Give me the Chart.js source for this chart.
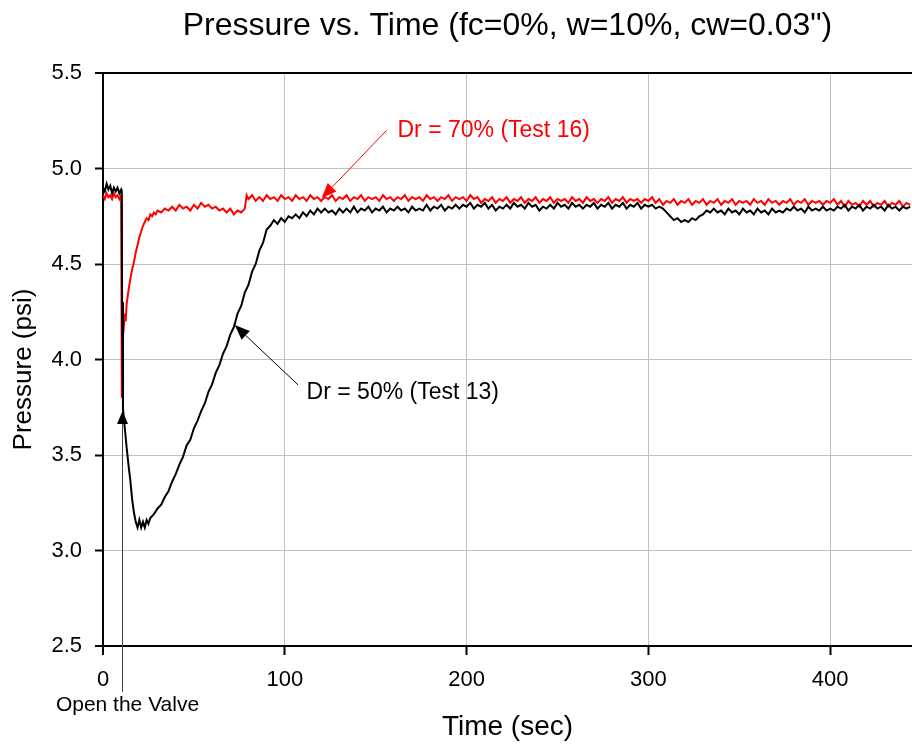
<!DOCTYPE html>
<html>
<head>
<meta charset="utf-8">
<title>Pressure vs. Time</title>
<script src="https://cdn.jsdelivr.net/npm/chart.js@4.4.1/dist/chart.umd.min.js"></script>
<style>
    html, body { margin: 0; padding: 0; background: #fff; }
    #chart { display: block; }
</style>
</head>
<body>
<canvas id="chart" width="912" height="744"></canvas>
<script>
// Dr = 50% (Test 13), black trace: time (sec) and pressure (psi)
const timesTest13 = [
    0, 1, 2, 3, 4, 5, 6, 7, 8, 9, 10, 10.3, 10.5,
    11, 12, 13, 14, 15, 16, 17, 18, 19, 20, 21, 22, 23, 24, 25, 26,
    28, 30, 32, 34, 36, 38, 40, 42, 44, 46,
    48, 50, 52, 54, 56, 58, 60, 62, 64, 66,
    68, 70, 72, 74, 76, 78, 80, 82, 84, 86,
    88, 90, 92, 94, 96, 98, 100, 102, 104, 106,
    108, 110, 112, 114, 116, 118, 120, 122, 124, 126,
    128, 130, 132, 134, 136, 138, 140, 142, 144, 146,
    148, 150, 152, 154, 156, 158, 160, 162, 164, 166,
    168, 170, 172, 174, 176, 178, 180, 182, 184, 186,
    188, 190, 192, 194, 196, 198, 200, 202, 204, 206,
    208, 210, 212, 214, 216, 218, 220, 222, 224, 226,
    228, 230, 232, 234, 236, 238, 240, 242, 244, 246,
    248, 250, 252, 254, 256, 258, 260, 262, 264, 266,
    268, 270, 272, 274, 276, 278, 280, 282, 284, 286,
    288, 290, 292, 294, 296, 298, 300, 302, 304, 306,
    308, 310, 312, 314, 316, 318, 320, 322, 324, 326,
    328, 330, 332, 334, 336, 338, 340, 342, 344, 346,
    348, 350, 352, 354, 356, 358, 360, 362, 364, 366,
    368, 370, 372, 374, 376, 378, 380, 382, 384, 386,
    388, 390, 392, 394, 396, 398, 400, 402, 404, 406,
    408, 410, 412, 414, 416, 418, 420, 422, 424, 426,
    428, 430, 432, 434, 436, 438, 440, 442, 444,
];
const pressureTest13 = [
    4.90, 4.88, 4.92, 4.89, 4.91, 4.87, 4.90, 4.88, 4.90, 4.87, 4.89, 4.88, 4.30,
    3.74, 3.64, 3.54, 3.45, 3.37, 3.27, 3.20, 3.15, 3.12, 3.16, 3.12, 3.15, 3.12, 3.16, 3.14, 3.17,
    3.19, 3.22, 3.24, 3.28, 3.31, 3.36, 3.40, 3.45, 3.49, 3.55,
    3.58, 3.64, 3.68, 3.73, 3.77, 3.83, 3.87, 3.93, 3.97, 4.03,
    4.07, 4.13, 4.17, 4.24, 4.28, 4.35, 4.39, 4.46, 4.50, 4.57,
    4.61, 4.68, 4.70, 4.73, 4.71, 4.74, 4.72, 4.75, 4.74, 4.76,
    4.74, 4.77, 4.75, 4.78, 4.76, 4.79, 4.77, 4.79, 4.77, 4.78,
    4.76, 4.79, 4.77, 4.79, 4.77, 4.80, 4.77, 4.79, 4.78, 4.80,
    4.77, 4.79, 4.78, 4.80, 4.77, 4.79, 4.78, 4.80, 4.78, 4.79,
    4.77, 4.80, 4.78, 4.79, 4.78, 4.81, 4.78, 4.80, 4.79, 4.81,
    4.78, 4.80, 4.79, 4.81, 4.79, 4.81, 4.80, 4.82, 4.79, 4.81,
    4.80, 4.82, 4.79, 4.81, 4.78, 4.80, 4.79, 4.81, 4.79, 4.82,
    4.80, 4.81, 4.79, 4.82, 4.80, 4.81, 4.78, 4.80, 4.79, 4.81,
    4.79, 4.82, 4.80, 4.81, 4.79, 4.82, 4.80, 4.81, 4.79, 4.81,
    4.80, 4.82, 4.79, 4.81, 4.80, 4.82, 4.79, 4.81, 4.80, 4.82,
    4.79, 4.81, 4.80, 4.82, 4.79, 4.81, 4.80, 4.81, 4.79, 4.80,
    4.79, 4.77, 4.75, 4.73, 4.74, 4.72, 4.73, 4.72, 4.74, 4.73,
    4.75, 4.76, 4.78, 4.77, 4.79, 4.77, 4.78, 4.76, 4.79, 4.77,
    4.78, 4.76, 4.79, 4.77, 4.78, 4.76, 4.79, 4.77, 4.78, 4.76,
    4.79, 4.77, 4.78, 4.77, 4.79, 4.78, 4.80, 4.78, 4.79, 4.77,
    4.80, 4.78, 4.79, 4.78, 4.80, 4.78, 4.79, 4.78, 4.80, 4.79,
    4.81, 4.78, 4.80, 4.79, 4.81, 4.78, 4.80, 4.79, 4.81, 4.79,
    4.80, 4.78, 4.81, 4.79, 4.80, 4.78, 4.80, 4.79, 4.80,
];

// Dr = 70% (Test 16), red trace
const timesTest16 = [
    0, 1, 2, 3, 4, 5, 6, 7, 8, 9, 10, 10.3, 10.4, 10.7,
    11, 11.5, 12, 12.5, 13,
    14, 15, 16, 17, 18, 19, 20, 21, 22, 23, 24, 25, 26, 27, 28, 29, 30,
    32, 34, 36, 38, 40, 42, 44, 46, 48, 50, 52, 54,
    56, 58, 60, 62, 64, 66, 68, 70, 72, 74, 76, 78, 79,
    80, 82, 84, 86, 88, 90, 92, 94, 96, 98,
    100, 102, 104, 106, 108, 110, 112, 114, 116, 118,
    120, 122, 124, 126, 128, 130, 132, 134, 136, 138,
    140, 142, 144, 146, 148, 150, 152, 154, 156, 158,
    160, 162, 164, 166, 168, 170, 172, 174, 176, 178,
    180, 182, 184, 186, 188, 190, 192, 194, 196, 198,
    200, 202, 204, 206, 208, 210, 212, 214, 216, 218,
    220, 222, 224, 226, 228, 230, 232, 234, 236, 238,
    240, 242, 244, 246, 248, 250, 252, 254, 256, 258,
    260, 262, 264, 266, 268, 270, 272, 274, 276, 278,
    280, 282, 284, 286, 288, 290, 292, 294, 296, 298,
    300, 302, 304, 306, 308, 310, 312, 314, 316, 318,
    320, 322, 324, 326, 328, 330, 332, 334, 336, 338,
    340, 342, 344, 346, 348, 350, 352, 354, 356, 358,
    360, 362, 364, 366, 368, 370, 372, 374, 376, 378,
    380, 382, 384, 386, 388, 390, 392, 394, 396, 398,
    400, 402, 404, 406, 408, 410, 412, 414, 416, 418,
    420, 422, 424, 426, 428, 430, 432, 434, 436, 438,
    440, 442, 444,
];
const pressureTest16 = [
    4.86, 4.84, 4.87, 4.85, 4.86, 4.84, 4.87, 4.85, 4.86, 4.84, 4.86, 4.85, 3.80, 4.15,
    4.21, 4.18, 4.24, 4.20, 4.29,
    4.36, 4.42, 4.47, 4.51, 4.56, 4.60, 4.64, 4.67, 4.70, 4.72, 4.74, 4.73, 4.76, 4.75, 4.77, 4.76, 4.78,
    4.77, 4.79, 4.78, 4.80, 4.78, 4.81, 4.79, 4.80, 4.78, 4.81, 4.79, 4.82,
    4.80, 4.81, 4.79, 4.80, 4.78, 4.79, 4.77, 4.79, 4.76, 4.78, 4.77, 4.79, 4.86,
    4.84, 4.86, 4.83, 4.85, 4.83, 4.86, 4.84, 4.85, 4.83, 4.86,
    4.84, 4.85, 4.83, 4.86, 4.84, 4.85, 4.83, 4.86, 4.84, 4.85,
    4.83, 4.85, 4.84, 4.86, 4.83, 4.85, 4.84, 4.86, 4.83, 4.85,
    4.84, 4.86, 4.83, 4.85, 4.84, 4.85, 4.83, 4.86, 4.84, 4.85,
    4.83, 4.85, 4.84, 4.86, 4.83, 4.85, 4.84, 4.85, 4.83, 4.86,
    4.84, 4.85, 4.83, 4.85, 4.84, 4.86, 4.83, 4.85, 4.84, 4.85,
    4.83, 4.86, 4.84, 4.85, 4.82, 4.84, 4.83, 4.85, 4.82, 4.84,
    4.83, 4.85, 4.82, 4.84, 4.83, 4.85, 4.82, 4.84, 4.83, 4.85,
    4.82, 4.84, 4.83, 4.85, 4.82, 4.84, 4.83, 4.84, 4.82, 4.85,
    4.83, 4.84, 4.82, 4.85, 4.83, 4.84, 4.82, 4.84, 4.83, 4.85,
    4.82, 4.84, 4.83, 4.85, 4.82, 4.84, 4.83, 4.84, 4.82, 4.84,
    4.83, 4.85, 4.82, 4.84, 4.81, 4.83, 4.82, 4.84, 4.81, 4.83,
    4.82, 4.84, 4.81, 4.83, 4.82, 4.84, 4.81, 4.83, 4.82, 4.84,
    4.81, 4.83, 4.82, 4.84, 4.81, 4.83, 4.82, 4.83, 4.81, 4.84,
    4.82, 4.83, 4.81, 4.84, 4.82, 4.83, 4.81, 4.83, 4.82, 4.84,
    4.81, 4.83, 4.82, 4.84, 4.81, 4.83, 4.82, 4.83, 4.81, 4.83,
    4.82, 4.84, 4.81, 4.83, 4.80, 4.83, 4.81, 4.82, 4.80, 4.83,
    4.81, 4.83, 4.80, 4.82, 4.81, 4.83, 4.80, 4.82, 4.81, 4.83,
    4.80, 4.82, 4.81,
];

// Axis ranges and tick steps
const timeRange = [0, 445];
const timeStep = 100;
const pressureRange = [2.5, 5.5];
const pressureStep = 0.5;

// Callouts, placed in data units (sec, psi)
const valveTime = 10.3;
const valveArrowTip = 3.73;
const callouts = [
    {text: 'Dr = 70% (Test 16)', color: '#ff0000', at: [162, 5.196], from: [156, 5.20], to: [120.3, 4.845]},
    {text: 'Dr = 50% (Test 13)', color: '#000000', at: [112, 3.825], from: [107.3, 3.867], to: [72.5, 4.18]},
];

const FONT = '"Liberation Sans", Arial, Helvetica, sans-serif';
const GRID_GREY = '#c0c0c0';

function toPoints(times, values) {
    return times.map((t, i) => ({x: t, y: values[i]}));
}

function drawArrow(ctx, x1, y1, x2, y2, lineColor, headColor, headLen, headHalf) {
    const ang = Math.atan2(y2 - y1, x2 - x1);
    const bx = x2 - headLen * Math.cos(ang);
    const by = y2 - headLen * Math.sin(ang);
    ctx.strokeStyle = lineColor;
    ctx.lineWidth = 1;
    ctx.beginPath();
    ctx.moveTo(x1, y1);
    ctx.lineTo(bx, by);
    ctx.stroke();
    ctx.fillStyle = headColor;
    ctx.beginPath();
    ctx.moveTo(x2, y2);
    ctx.lineTo(bx + headHalf * Math.sin(ang), by - headHalf * Math.cos(ang));
    ctx.lineTo(bx - headHalf * Math.sin(ang), by + headHalf * Math.cos(ang));
    ctx.closePath();
    ctx.fill();
}

// Draws the callout arrows, their text and the pressure axis title
const pluginCallouts = {
    id: 'callouts',
    afterDraw(chart) {
        const ctx = chart.ctx;
        const xs = chart.scales.x;
        const ys = chart.scales.y;
        const area = chart.chartArea;
        ctx.save();
        ctx.font = '23px ' + FONT;
        ctx.textBaseline = 'middle';
        ctx.textAlign = 'left';
        for (const c of callouts) {
            drawArrow(ctx,
                xs.getPixelForValue(c.from[0]), ys.getPixelForValue(c.from[1]),
                xs.getPixelForValue(c.to[0]), ys.getPixelForValue(c.to[1]),
                c.color, c.color, 15, 6);
            ctx.fillStyle = c.color;
            ctx.fillText(c.text, xs.getPixelForValue(c.at[0]), ys.getPixelForValue(c.at[1]));
        }

        // "Open the Valve" marker, starting below the time axis
        const vx = Math.round(xs.getPixelForValue(valveTime)) + 0.5;
        drawArrow(ctx, vx, area.bottom + 46, vx, ys.getPixelForValue(valveArrowTip), '#404040', '#000', 13, 5.5);
        ctx.fillStyle = '#000';
        ctx.textAlign = 'center';
        ctx.font = '21px ' + FONT;
        ctx.fillText('Open the Valve', vx + 5, area.bottom + 59);

        // Pressure axis title, sitting a little below the middle like the original
        ctx.font = '26px ' + FONT;
        ctx.translate(24, (area.top + area.bottom) / 2 + 10);
        ctx.rotate(-Math.PI / 2);
        ctx.fillText('Pressure (psi)', 0, 0);
        ctx.restore();
    },
};

Chart.defaults.font.family = FONT;
Chart.defaults.color = '#000';

new Chart(document.getElementById('chart'), {
    type: 'line',
    data: {
        datasets: [
            {
                label: 'Dr = 50% (Test 13)',
                data: toPoints(timesTest13, pressureTest13),
                borderColor: '#000000',
                borderWidth: 2,
                pointRadius: 0,
                tension: 0,
            },
            {
                label: 'Dr = 70% (Test 16)',
                data: toPoints(timesTest16, pressureTest16),
                borderColor: '#ff0000',
                borderWidth: 2,
                pointRadius: 0,
                tension: 0,
            },
        ],
    },
    options: {
        responsive: false,
        animation: false,
        layout: {padding: 0},
        plugins: {
            legend: {display: false},
            tooltip: {enabled: false},
            title: {
                display: true,
                text: 'Pressure vs. Time (fc=0%, w=10%, cw=0.03")',
                fullSize: false,
                color: '#000',
                font: {size: 32, weight: 'normal'},
                padding: {top: 7, bottom: 27.6},
            },
        },
        scales: {
            x: {
                type: 'linear',
                min: timeRange[0],
                max: timeRange[1],
                afterBuildTicks: (scale) => {
                    scale.ticks = scale.ticks.filter((t) => t.value % timeStep === 0);
                },
                afterFit: (scale) => { scale.height = 98; },
                ticks: {
                    stepSize: timeStep,
                    font: {size: 22},
                    padding: 12,
                    maxRotation: 0,
                },
                grid: {
                    color: (c) => (c.tick && c.tick.value === timeRange[0]) ? '#000' : GRID_GREY,
                    lineWidth: (c) => (c.tick && c.tick.value === timeRange[0]) ? 2 : 1,
                    tickColor: '#000',
                    tickLength: 9,
                    tickWidth: 2,
                },
                border: {color: '#000', width: 2},
                title: {
                    display: true,
                    text: 'Time (sec)',
                    font: {size: 28},
                    padding: {top: 0, bottom: 0},
                },
            },
            y: {
                min: pressureRange[0],
                max: pressureRange[1],
                afterFit: (scale) => { scale.width = 103; },
                ticks: {
                    stepSize: pressureStep,
                    font: {size: 22},
                    padding: 13,
                    callback: (v) => v.toFixed(1),
                },
                grid: {
                    color: (c) => {
                        const v = c.tick ? c.tick.value : 0;
                        return (Math.abs(v - pressureRange[1]) < 1e-9 || Math.abs(v - pressureRange[0]) < 1e-9) ? '#000' : GRID_GREY;
                    },
                    lineWidth: (c) => {
                        const v = c.tick ? c.tick.value : 0;
                        return (Math.abs(v - pressureRange[1]) < 1e-9 || Math.abs(v - pressureRange[0]) < 1e-9) ? 2 : 1;
                    },
                    tickColor: '#000',
                    tickLength: 8,
                    tickWidth: 2,
                },
                border: {color: '#000', width: 2},
            },
        },
    },
    plugins: [pluginCallouts],
});
</script>
</body>
</html>
